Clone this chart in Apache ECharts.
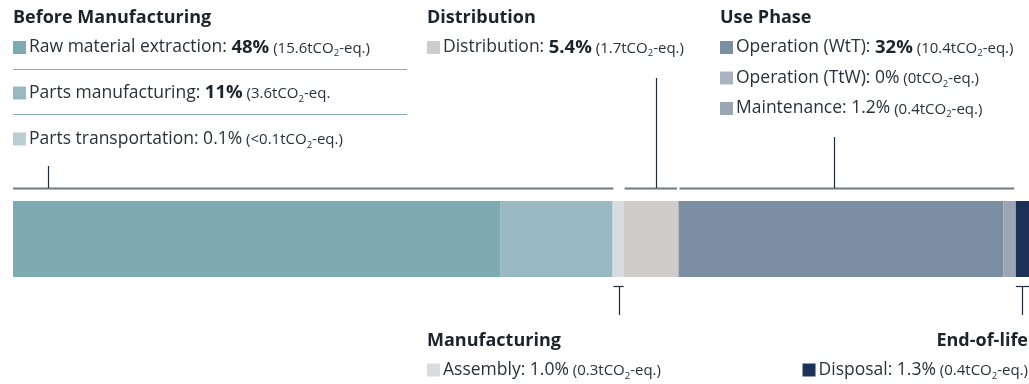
<!DOCTYPE html>
<html><head><meta charset="utf-8">
<script src="https://cdn.jsdelivr.net/npm/echarts@6/dist/echarts.min.js"></script>
<style>html,body{margin:0;padding:0;background:#fff;overflow:hidden}#c{width:1029px;height:384px}</style>
</head><body><div id="c"></div>
<script>
// ---- data ----
const stages = ['Before Manufacturing', 'Manufacturing', 'Distribution', 'Use Phase', 'End-of-life'];
const categories = ['Raw material extraction', 'Parts manufacturing', 'Parts transportation', 'Assembly', 'Distribution', 'Operation (WtT)', 'Operation (TtW)', 'Maintenance', 'Disposal'];
const stageOf = [0, 0, 0, 1, 2, 3, 3, 3, 4];
const shares = [48, 11, 0.1, 1.0, 5.4, 32, 0, 1.2, 1.3];
const shareLabels = ['48%', '11%', '0.1%', '1.0%', '5.4%', '32%', '0%', '1.2%', '1.3%'];
const boldShare = [true, true, false, false, true, true, false, false, false];
const emissions = ['15.6', '3.6', '<0.1', '0.3', '1.7', '10.4', '0', '0.4', '0.4'];
const unitTails = ['-eq.)', '-eq.', '-eq.)', '-eq.)', '-eq.)', '-eq.)', '-eq.)', '-eq.)', '-eq.)'];
const stageTickAt = [3.45, 59.6, 63.3, 80.8, 99.35]; // pointer positions on the share scale

// ---- style ----
const colors = ['#7eaab2', '#98b9c1', '#b8cfd4', '#d8dcdf', '#cecdcc', '#7b8ea3', '#aab4bf', '#9ba6b4', '#1c3259'];
const FONT = '"Open Sans", Lato, sans-serif';
const DARK = '#1c232b', TXT = '#2b3138';

const chart = echarts.init(document.getElementById('c'), null, {renderer: 'canvas'});
chart.setOption({
  animation: false,
  grid: {left: 13, right: 0, top: 201, height: 76},
  xAxis: {type: 'value', min: 0, max: 100, show: false},
  yAxis: {type: 'category', data: ['LCA'], show: false},
  series: categories.map((c, i) => ({
    name: c, type: 'bar', stack: 'total', data: [shares[i]], barWidth: 76, silent: true,
    itemStyle: {color: colors[i]}
  }))
});

const px = v => chart.convertToPixel({gridIndex: 0}, [v, 0])[0];
const starts = [];
let acc = 0;
shares.forEach((s, i) => { starts.push(acc); acc += s; });
const stageRange = st => {
  const idx = stageOf.map((s, i) => s === st ? i : -1).filter(i => i >= 0);
  return [starts[idx[0]], starts[idx[idx.length - 1]] + shares[idx[idx.length - 1]]];
};

const g = [];
const layout = {
  0: {x: 13, hy: 17.5, rows: [47.5, 93, 139], align: 'left'},
  2: {x: 427, hy: 17.5, rows: [47.5], align: 'left'},
  3: {x: 720, hy: 17.5, rows: [47.5, 78, 108.5], align: 'left'},
  1: {x: 427, hy: 340.5, rows: [370], align: 'left'},
  4: {x: 1028, hy: 340.5, rows: [370], align: 'right'}
};
function rowText(i) {
  const pct = boldShare[i] ? '{b|' + shareLabels[i] + '}' : '{n|' + shareLabels[i] + '}';
  return '{sq|}{gap|}{n|' + categories[i] + ': }' + pct + '{sm| (' + emissions[i] + 'tCO}{sub|2}{sm|' + unitTails[i] + '}';
}
Object.keys(layout).forEach(k => {
  const st = +k, L = layout[k];
  g.push({type: 'text', silent: true, style: {text: stages[st], x: L.x, y: L.hy, fill: DARK,
    font: 'bold 18px ' + FONT, textAlign: L.align, textVerticalAlign: 'middle'}});
  const idx = stageOf.map((s, i) => s === st ? i : -1).filter(i => i >= 0);
  idx.forEach((ci, r) => {
    g.push({type: 'text', silent: true, style: {
      text: rowText(ci), x: L.x, y: L.rows[r], textAlign: L.align, textVerticalAlign: 'middle',
      rich: {
        sq: {width: 13, height: 13, backgroundColor: colors[ci], lineHeight: 22},
        gap: {width: 3, lineHeight: 22},
        n: {fontFamily: FONT, fontSize: 17.5, fill: TXT, lineHeight: 22},
        b: {fontFamily: FONT, fontSize: 18.5, fontWeight: 'bold', fill: DARK, lineHeight: 22},
        sm: {fontFamily: FONT, fontSize: 15, fill: TXT, lineHeight: 15, padding: [2, 0, 0, 0]},
        sub: {fontFamily: FONT, fontSize: 9.5, fill: TXT, lineHeight: 10, verticalAlign: 'bottom'}
      }
    }});
  });
});
[69.5, 114.5].forEach(y => g.push({type: 'line', silent: true,
  shape: {x1: 13, y1: y, x2: 407, y2: y}, style: {stroke: '#8badb5', lineWidth: 1}}));

const topTickY = {0: 166, 2: 78, 3: 137};
[0, 2, 3].forEach((st, n) => {
  const [a, b] = stageRange(st);
  const x1 = px(a) + (n > 0 ? 1 : 0), x2 = px(b) - (st === 0 ? 0 : 1.5);
  g.push({type: 'line', silent: true, shape: {x1, y1: 188.5, x2, y2: 188.5}, style: {stroke: '#737a80', lineWidth: 2}});
  const tx = Math.round(px(stageTickAt[st])) + 0.5;
  g.push({type: 'line', silent: true, shape: {x1: tx, y1: topTickY[st], x2: tx, y2: 188}, style: {stroke: '#1e2a36', lineWidth: 1.2}});
});
[1, 4].forEach(st => {
  const [a, b] = stageRange(st);
  g.push({type: 'line', silent: true, shape: {x1: px(a), y1: 286.5, x2: px(b), y2: 286.5}, style: {stroke: '#1e2a36', lineWidth: 1.2}});
  const tx = Math.round(px(stageTickAt[st])) + 0.5;
  g.push({type: 'line', silent: true, shape: {x1: tx, y1: 286, x2: tx, y2: 315}, style: {stroke: '#1e2a36', lineWidth: 1.2}});
});
chart.setOption({graphic: g});
</script>
</body></html>
